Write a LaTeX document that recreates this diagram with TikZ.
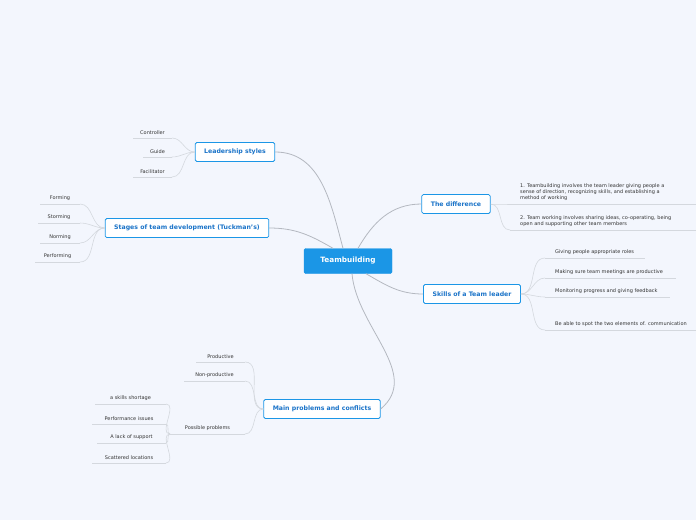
\documentclass[tikz,border=0pt]{standalone}
\usepackage{fontspec}
\setmainfont{DejaVu Sans}
\usetikzlibrary{positioning,calc}
\definecolor{mapblue}{HTML}{1B96E6}
\definecolor{txtblue}{HTML}{1A73C8}
\definecolor{linkgray}{HTML}{B4B8C0}
\definecolor{leafgray}{HTML}{D4D8DE}
\definecolor{bgblue}{HTML}{F3F6FD}
\tikzset{
  rootbox/.style={fill=mapblue, draw=mapblue, rounded corners=1.5pt, text=white, font=\bfseries\fontsize{7.3}{9}\selectfont, minimum height=25pt, minimum width=88pt},
  topicbox/.style={fill=white, draw=mapblue, line width=0.8pt, rounded corners=1.5pt, text=txtblue, font=\bfseries\fontsize{6.2}{7.5}\selectfont, minimum height=19pt, inner xsep=9pt},
  leaftext/.style={font=\fontsize{5}{6.2}\selectfont, text=black!80, inner sep=1pt, anchor=south},
  leafrtext/.style={font=\fontsize{5}{6.2}\selectfont, text=black!80, inner sep=1pt, anchor=south west, align=left},
  link/.style={draw=linkgray, line width=0.8pt},
  leafline/.style={draw=leafgray, line width=0.6pt},
}
% leaf: name, text, x1, x2, y of underline
\newcommand{\leafL}[5]{%
  \coordinate (#1-a) at (#3,#5); \coordinate (#1-b) at (#4,#5);
  \draw[leafline] (#1-a) -- (#1-b);
  \node[leaftext] (#1) at ($(#1-a)!0.5!(#1-b)+(0,-2)$) {#2};}
\newcommand{\leafR}[5]{%
  \coordinate (#1-a) at (#3,#5); \coordinate (#1-b) at (#4,#5);
  \draw[leafline] (#1-a) -- (#1-b);
  \node[leafrtext] (#1) at ($(#1-a)+(9,-2)$) {#2};}
\begin{document}
\begin{tikzpicture}[x=1pt,y=-1pt]
\fill[bgblue] (0,0) rectangle (696,520);
\useasboundingbox (0,0) rectangle (696,520);

% main nodes
\node[rootbox] (root) at (348,261) {Teambuilding};
\node[topicbox] (lead) at (235,152) {Leadership styles};
\node[topicbox] (stage) at (187,228) {Stages of team development (Tuckman's)};
\node[topicbox] (prob) at (322,409) {Main problems and conflicts};
\node[topicbox] (diff) at (456,204) {The difference};
\node[topicbox] (skill) at (472,294) {Skills of a Team leader};

% branches
\draw[link] (root.north) ++(-5,0) to[out=105,in=0] (lead.east);
\draw[link] (root.north) ++(-15,0) to[out=150,in=0] (stage.east);
\draw[link] (root.south) ++(4,0) to[out=-85,in=40] (prob.east);
\draw[link] (root.north) ++(10,0) to[out=60,in=180] (diff.west);
\draw[link] (root.south) ++(18,0) to[out=-30,in=180] (skill.west);

% Leadership styles
\leafL{ctrl}{Controller}{133}{172}{138}
\leafL{guide}{Guide}{143}{172}{157}
\leafL{facil}{Facilitator}{133}{172}{177}
\foreach \n in {ctrl,guide,facil}
  \draw[leafline] (lead.west) to[out=180,in=0] (\n-b);

% Stages
\leafL{form}{Forming}{40}{80}{204}
\leafL{storm}{Storming}{38}{80}{223}
\leafL{norm}{Norming}{40}{80}{243}
\leafL{perf}{Performing}{35}{80}{262}
\foreach \n in {form,storm,norm,perf}
  \draw[leafline] (stage.west) to[out=180,in=0] (\n-b);

% Main problems
\leafL{prod}{Productive}{196}{245}{362}
\leafL{nonprod}{Non-productive}{184}{245}{381}
\leafL{poss}{Possible problems}{170}{245}{434}
\foreach \n in {prod,nonprod,poss}
  \draw[leafline] (prob.west) to[out=180,in=0] (\n-b);
\leafL{short}{a skills shortage}{95}{166}{404}
\leafL{issue}{Performance issues}{92}{166}{424}
\leafL{support}{A lack of support}{97}{166}{443}
\leafL{scatter}{Scattered locations}{92}{166}{463}
\foreach \n in {short,issue,support,scatter}
  \draw[leafline] (poss-a) to[out=180,in=0] (\n-b);

% The difference
\leafR{d1}{1. Teambuilding involves the team leader giving people a\\sense of direction, recognizing skills, and establishing a\\method of working}{510}{696}{204}
\leafR{d2}{2. Team working involves sharing ideas, co-operating, being\\open and supporting other team members}{510}{696}{230}
\foreach \n in {d1,d2}
  \draw[leafline] (diff.east) to[out=0,in=180] (\n-a);

% Skills
\leafR{s1}{Giving people appropriate roles}{545}{645}{258}
\leafR{s2}{Making sure team meetings are productive}{545}{676}{278}
\leafR{s3}{Monitoring progress and giving feedback}{545}{670}{297}
\leafR{s4}{Be able to spot the two elements of. communication}{545}{696}{330}
\foreach \n in {s1,s2,s3,s4}
  \draw[leafline] (skill.east) to[out=0,in=180] (\n-a);
\end{tikzpicture}
\end{document}
